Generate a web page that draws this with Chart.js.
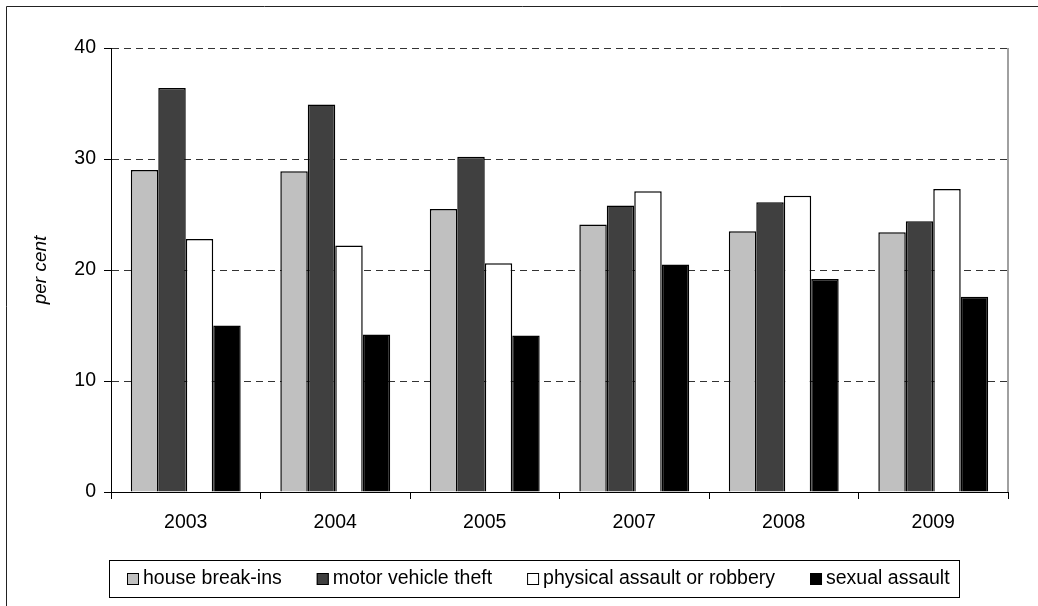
<!DOCTYPE html>
<html>
<head>
<meta charset="utf-8">
<script src="https://cdn.jsdelivr.net/npm/chart.js@4"></script>
<style>
  html, body { margin: 0; padding: 0; background: #fff; }
  #wrap { width: 1038px; height: 606px; position: relative; }
</style>
</head>
<body>
<div id="wrap"><canvas id="c"></canvas></div>
<script>
  // ---- data ----
  const years = ['2003', '2004', '2005', '2007', '2008', '2009'];
  const houseBreakIns = [29.0, 28.9, 25.5, 24.1, 23.5, 23.4];
  const motorVehicleTheft = [36.4, 34.9, 30.2, 25.8, 26.1, 24.4];
  const physicalAssault = [22.8, 22.2, 20.6, 27.1, 26.7, 27.3];
  const sexualAssault = [15.0, 14.2, 14.1, 20.5, 19.2, 17.6];
  const yTicks = [0, 10, 20, 30, 40];

  const FONT = '"Liberation Sans", Arial, sans-serif';

  function ds(label, data, color) {
    return {
      label, data,
      backgroundColor: color,
      borderColor: '#000',
      borderWidth: 1.5,
      borderSkipped: 'bottom',
      categoryPercentage: 0.735,
      barPercentage: 1
    };
  }

  // ---- outer frame, plot right edge, legend box ----
  const framePlugin = {
    id: 'frame',
    beforeDraw(chart) {
      const ctx = chart.ctx;
      ctx.save();
      ctx.strokeStyle = '#222';
      ctx.lineWidth = 1;
      ctx.beginPath();
      ctx.moveTo(6.5, chart.height);
      ctx.lineTo(6.5, 6.5);
      ctx.lineTo(chart.width, 6.5);
      ctx.stroke();
      ctx.restore();
    },
    afterDraw(chart) {
      const { ctx, chartArea } = chart;
      ctx.save();
      // right edge of plot area
      ctx.strokeStyle = '#808080';
      ctx.lineWidth = 1.5;
      ctx.beginPath();
      ctx.moveTo(chartArea.right, chartArea.top);
      ctx.lineTo(chartArea.right, chartArea.bottom);
      ctx.stroke();

      // legend
      const boxL = 109.5, boxT = 560.5, boxR = 959.5, boxB = 597.5;
      ctx.strokeStyle = '#000';
      ctx.lineWidth = 1;
      ctx.strokeRect(boxL, boxT, boxR - boxL, boxB - boxT);
      ctx.font = '19.5px ' + FONT;
      ctx.textBaseline = 'middle';
      ctx.fillStyle = '#000';
      const cy = 579;
      let x = 127;
      chart.data.datasets.forEach(d => {
        ctx.fillStyle = d.backgroundColor;
        ctx.fillRect(x, cy - 6, 12, 12);
        ctx.strokeStyle = '#000';
        ctx.lineWidth = 1;
        ctx.strokeRect(x + 0.5, cy - 5.5, 11, 11);
        ctx.fillStyle = '#000';
        ctx.fillText(d.label, x + 16, cy);
        x += 16 + ctx.measureText(d.label).width + 35;
      });
      ctx.restore();
    }
  };

  new Chart(document.getElementById('c'), {
    type: 'bar',
    plugins: [framePlugin],
    data: {
      labels: years,
      datasets: [
        ds('house break-ins', houseBreakIns, '#C0C0C0'),
        ds('motor vehicle theft', motorVehicleTheft, '#404040'),
        ds('physical assault or robbery', physicalAssault, '#FFFFFF'),
        ds('sexual assault', sexualAssault, '#000000')
      ]
    },
    options: {
      responsive: true,
      maintainAspectRatio: false,
      animation: false,
      layout: { padding: { left: 0, top: 48, right: 30, bottom: 0 } },
      plugins: {
        legend: { display: false },
        tooltip: { enabled: false }
      },
      scales: {
        x: {
          grid: {
            offset: true,
            drawOnChartArea: false,
            tickLength: 7,
            tickColor: '#000'
          },
          border: { color: '#000', width: 1 },
          ticks: {
            color: '#000',
            padding: 12,
            font: { family: FONT, size: 19.5 }
          },
          afterFit(s) { s.height = 114; }
        },
        y: {
          min: 0,
          max: 40,
          afterBuildTicks(s) { s.ticks = yTicks.map(v => ({ value: v })); },
          grid: {
            color: '#333',
            tickLength: 7,
            tickColor: '#000',
            tickBorderDash: []
          },
          border: { color: '#000', width: 1, dash: [7, 5] },
          ticks: {
            color: '#000',
            padding: 8,
            font: { family: FONT, size: 19.5 }
          },
          title: {
            display: true,
            text: 'per cent',
            color: '#000',
            padding: { top: 29, bottom: 0 },
            font: { family: FONT, size: 19, style: 'italic' }
          },
          afterFit(s) { s.width = 111; }
        }
      }
    }
  });
</script>
</body>
</html>
